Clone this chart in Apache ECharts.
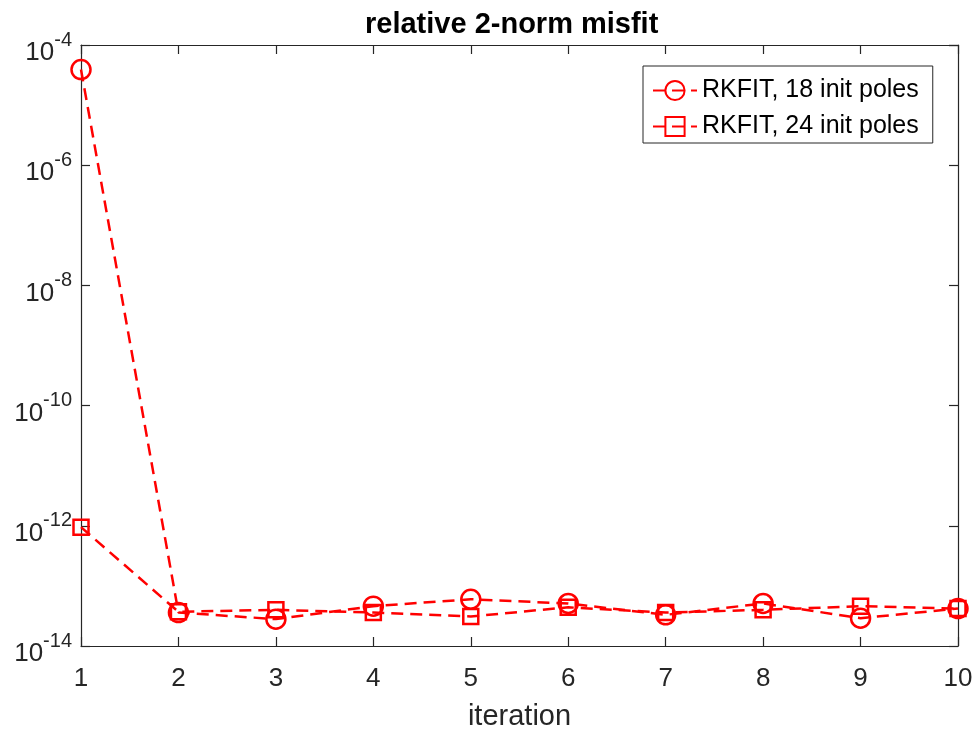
<!DOCTYPE html>
<html>
<head>
<meta charset="utf-8">
<script src="https://cdn.jsdelivr.net/npm/echarts@6/dist/echarts.min.js"></script>
<style>
  html, body { margin: 0; padding: 0; background: #fff; }
  #chart { width: 978px; height: 731px; }
</style>
</head>
<body>
<div id="chart"></div>
<script>
const iterations = [1, 2, 3, 4, 5, 6, 7, 8, 9, 10];
const misfit18 = [3.9e-5, 3.6e-14, 2.8e-14, 4.6e-14, 6.0e-14, 5.1e-14, 3.3e-14, 5.1e-14, 2.9e-14, 4.2e-14];
const misfit24 = [9.5e-13, 3.7e-14, 4.0e-14, 3.6e-14, 3.1e-14, 4.4e-14, 3.6e-14, 4.0e-14, 4.6e-14, 4.2e-14];
const seriesNames = ['RKFIT, 18 init poles', 'RKFIT, 24 init poles'];

const font = 'Liberation Sans, Arial, Helvetica, sans-serif';
const axisColor = '#262626';
const red = '#ff0000';

const chart = echarts.init(document.getElementById('chart'));

const pairs = arr => arr.map((v, i) => [iterations[i], v]);

const expLabel = v => {
    const e = Math.round(Math.log10(v));
    return '{b|10}{s|' + e + '}';
};

const lineSeries = (name, values, symbol, size) => ({
    name: name,
    type: 'line',
    data: pairs(values),
    symbol: symbol,
    symbolSize: size,
    showAllSymbol: true,
    clip: false,
    lineStyle: { color: red, width: 2.5, type: [12, 7] },
    itemStyle: { color: 'transparent', borderColor: red, borderWidth: 2.5 }
});

const option = {
    backgroundColor: '#fff',
    animation: false,
    title: {
        text: 'relative 2-norm misfit',
        left: 360,
        top: 5,
        textStyle: { fontFamily: font, fontSize: 29, fontWeight: 'bold', color: '#000' }
    },
    legend: {
        orient: 'vertical',
        left: 643,
        top: 66,
        padding: [12, 14, 4, 9],
        itemGap: 11,
        itemWidth: 44,
        itemHeight: 24,
        backgroundColor: '#fff',
        borderColor: axisColor,
        borderWidth: 1,
        borderRadius: 0,
        data: seriesNames,
        textStyle: { fontFamily: font, fontSize: 25, color: '#000' }
    },
    grid: { left: 81, right: 20, top: 45, bottom: 85, containLabel: false, outerBoundsMode: 'none' },
    xAxis: [{
        type: 'value',
        min: 1,
        max: 10,
        interval: 1,
        name: 'iteration',
        nameLocation: 'middle',
        nameGap: 56,
        nameTextStyle: { fontFamily: font, fontSize: 29, color: axisColor },
        axisLine: { lineStyle: { color: axisColor, width: 1.2 } },
        axisTick: { inside: true, length: 9, lineStyle: { color: axisColor, width: 1.2 } },
        axisLabel: { margin: 20, fontFamily: font, fontSize: 26, color: axisColor },
        splitLine: { show: false }
    }, {
        type: 'value',
        position: 'top',
        min: 1,
        max: 10,
        interval: 1,
        axisLine: { lineStyle: { color: axisColor, width: 1.2 } },
        axisTick: { inside: true, length: 9, lineStyle: { color: axisColor, width: 1.2 } },
        axisLabel: { show: false },
        splitLine: { show: false }
    }],
    yAxis: [{
        type: 'log',
        logBase: 10,
        min: 1e-14,
        max: 1e-4,
        interval: 2,
        axisLine: { show: true, lineStyle: { color: axisColor, width: 1.2 } },
        axisTick: { show: true, inside: true, length: 9, lineStyle: { color: axisColor, width: 1.2 } },
        axisLabel: {
            margin: 9,
            padding: [16, 0, 0, 0],
            formatter: expLabel,
            rich: {
                b: { fontFamily: font, fontSize: 26, color: axisColor, lineHeight: 46 },
                s: { fontFamily: font, fontSize: 20, color: axisColor, lineHeight: 20, verticalAlign: 'top' }
            }
        },
        splitLine: { show: false }
    }, {
        type: 'log',
        logBase: 10,
        position: 'right',
        min: 1e-14,
        max: 1e-4,
        interval: 2,
        axisLine: { show: true, lineStyle: { color: axisColor, width: 1.2 } },
        axisTick: { show: true, inside: true, length: 9, lineStyle: { color: axisColor, width: 1.2 } },
        axisLabel: { show: false },
        splitLine: { show: false }
    }],
    series: [
        lineSeries(seriesNames[0], misfit18, 'circle', 19),
        lineSeries(seriesNames[1], misfit24, 'rect', 15)
    ]
};

chart.setOption(option);
window.addEventListener('resize', () => chart.resize());
</script>
</body>
</html>
